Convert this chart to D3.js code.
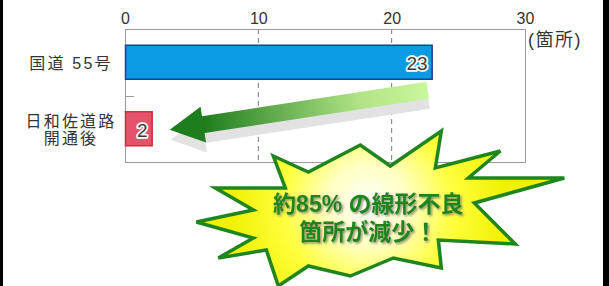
<!DOCTYPE html>
<html>
<head>
<meta charset="utf-8">
<script src="https://cdn.jsdelivr.net/npm/d3@7"></script>
<style>
  html, body { margin: 0; padding: 0; background: #fff; }
  svg { display: block; font-family: "Liberation Sans", Arial, "Noto Sans CJK JP", sans-serif; }
</style>
</head>
<body>
<div id="chart"></div>
<script>
//Datos
const categories = ['国道 55号', '日和佐道路\n開通後'];
const values = [23, 2];
const xTicks = [0, 10, 20, 30];
const gridTicks = [10, 20];
const unitLabel = '(箇所)';
const calloutLines = ['約85% の線形不良', '箇所が減少！'];

//Colores
const COLOR_BARS = ['#0a9be3', '#e4536a'],
    COLOR_BARS_STROKE = ['#1c3f93', '#d7283c'],
    COLOR_FRAME = '#9a9a9a',
    COLOR_GREEN = '#1f861f';

//Forma de la estrella (desplazamientos respecto al centro)
const starShape = [
    [63,-79],[57,-42],[122,-59],[90,-32],[186,-32],[96,-7],[137,34],[60,30],
    [63,58],[15,48],[-28,66],[-70,56],[-100,76],[-112,40],[-160,48],[-125,28],
    [-182,12],[-125,0],[-163,-22],[-93,-22],[-105,-54],[-70,-38],[-18,-65],[12,-44]
];

const W = 609, H = 286;
const margin = {top: 29, right: 85, bottom: 124, left: 125};

let svg = d3.select('#chart').append('svg')
    .attr('width', W)
    .attr('height', H);

let defs = svg.append('defs');

//Sombra del texto
let f = defs.append('filter').attr('id', 'txtShadow')
    .attr('x', '-10%').attr('y', '-30%').attr('width', '120%').attr('height', '160%');
f.append('feDropShadow')
    .attr('dx', 1.5).attr('dy', 1.5).attr('stdDeviation', 0.8)
    .attr('flood-color', '#7a7a6a').attr('flood-opacity', 0.85);

//Marco negro
svg.append('rect').attr('x', 0).attr('y', 0).attr('width', 3).attr('height', H).attr('fill', '#000');
svg.append('rect').attr('x', 603).attr('y', 0).attr('width', 6).attr('height', H).attr('fill', '#000');

let x = d3.scaleLinear()
    .domain([0, 30])
    .range([margin.left, W - margin.right + 1]);

let y = d3.scalePoint()
    .domain(categories)
    .range([margin.top, H - margin.bottom])
    .padding(0.5);

let plotTop = margin.top, plotBottom = H - margin.bottom;

//Rejilla
svg.selectAll('.grid')
    .data(gridTicks)
    .enter()
    .append('line')
    .attr('x1', d => x(d)).attr('x2', d => x(d))
    .attr('y1', plotTop).attr('y2', plotBottom)
    .attr('stroke', '#7a7a7a')
    .attr('stroke-width', 1)
    .attr('stroke-dasharray', '5,4');

//Marco del gráfico
svg.append('rect')
    .attr('x', x(0) + 0.5).attr('y', plotTop + 0.5)
    .attr('width', x(30) - x(0)).attr('height', plotBottom - plotTop)
    .attr('fill', 'none')
    .attr('stroke', COLOR_FRAME)
    .attr('stroke-width', 1);

//Eje X
let xAxis = function(g) {
    g.call(d3.axisTop(x).tickValues(xTicks).tickSize(0).tickPadding(4));
    g.call(g => g.select('.domain').remove());
    g.selectAll('text')
        .attr('font-size', 16)
        .attr('fill', '#333')
        .attr('font-family', '"Liberation Sans", Arial, sans-serif');
};
svg.append('g')
    .attr('transform', 'translate(0,' + (plotTop - 1) + ')')
    .call(xAxis);

svg.append('text')
    .attr('x', 528).attr('y', 46)
    .attr('font-size', 18)
    .attr('letter-spacing', 1.5)
    .attr('fill', '#333')
    .text(unitLabel);

//Marca entre categorías
let mid = (y(categories[0]) + y(categories[1])) / 2;
svg.append('line')
    .attr('x1', x(0)).attr('x2', x(0) + 9)
    .attr('y1', Math.round(mid) + 0.5).attr('y2', Math.round(mid) + 0.5)
    .attr('stroke', COLOR_FRAME);

//Etiquetas de categorías
categories.forEach(function(c) {
    let lines = c.split('\n');
    let t = svg.append('text')
        .attr('text-anchor', 'middle')
        .attr('font-size', 16)
        .attr('letter-spacing', 2.2)
        .attr('fill', '#333');
    lines.forEach(function(l, i) {
        t.append('tspan')
            .attr('x', 71)
            .attr('y', y(c) + 7 - (lines.length - 1) * 8.5 + i * 17)
            .text(l);
    });
});

//Barras
const barH = 34;
svg.selectAll('.bar')
    .data(values)
    .enter()
    .append('rect')
    .attr('x', x(0) + 0.5)
    .attr('y', (d, i) => y(categories[i]) - barH / 2)
    .attr('width', d => x(d) - x(0))
    .attr('height', barH)
    .attr('fill', (d, i) => COLOR_BARS[i])
    .attr('stroke', (d, i) => COLOR_BARS_STROKE[i])
    .attr('stroke-width', 1.5);

svg.selectAll('.barlabel')
    .data(values)
    .enter()
    .append('text')
    .attr('x', d => x(d) - 4)
    .attr('y', (d, i) => y(categories[i]) + 8)
    .attr('text-anchor', 'end')
    .attr('font-size', 19)
    .attr('fill', '#3a3a3a')
    .attr('stroke', '#fff')
    .attr('stroke-width', 3.5)
    .attr('stroke-linejoin', 'round')
    .attr('paint-order', 'stroke')
    .text(d => d);

//Flecha
let S = [x(values[0]) - 4, y(categories[0]) + 28];
let T = [x(values[1]) + 18, y(categories[1]) + 1];
let len = Math.hypot(T[0] - S[0], T[1] - S[1]);
let u = [(T[0] - S[0]) / len, (T[1] - S[1]) / len];
let n = [-u[1], u[0]];
let sw = 8.5, hw = 18, hl = 34;
let B = [T[0] - u[0] * hl, T[1] - u[1] * hl];
function pt(p, k) { return [p[0] + n[0] * k, p[1] + n[1] * k]; }
let arrowPts = [pt(S, sw), pt(B, sw), pt(B, hw), T, pt(B, -hw), pt(B, -sw), pt(S, -sw)];

let grad = defs.append('linearGradient')
    .attr('id', 'arrowGrad')
    .attr('gradientUnits', 'userSpaceOnUse')
    .attr('x1', S[0]).attr('y1', S[1])
    .attr('x2', B[0]).attr('y2', B[1]);
grad.append('stop').attr('offset', '0%').attr('stop-color', '#c9f79c');
grad.append('stop').attr('offset', '30%').attr('stop-color', '#b2e486');
grad.append('stop').attr('offset', '100%').attr('stop-color', '#1e7d1e');

svg.append('polygon')
    .attr('points', arrowPts.map(p => p.join(',')).join(' '))
    .attr('transform', 'translate(1,10)')
    .attr('fill', '#e2e2e2');

svg.append('polygon')
    .attr('points', arrowPts.map(p => p.join(',')).join(' '))
    .attr('fill', 'url(#arrowGrad)');

//Estrella
let cx = x(19), cy = plotBottom + 48;
let rg = defs.append('radialGradient')
    .attr('id', 'starGrad')
    .attr('gradientUnits', 'userSpaceOnUse')
    .attr('cx', cx - 10).attr('cy', cy - 5).attr('r', 140);
rg.append('stop').attr('offset', '0%').attr('stop-color', '#ffffff');
rg.append('stop').attr('offset', '30%').attr('stop-color', '#ffffc0');
rg.append('stop').attr('offset', '60%').attr('stop-color', '#ffff40');
rg.append('stop').attr('offset', '100%').attr('stop-color', '#f0f000');

svg.append('polygon')
    .attr('points', starShape.map(d => (cx + d[0]) + ',' + (cy + d[1])).join(' '))
    .attr('fill', 'url(#starGrad)')
    .attr('stroke', COLOR_GREEN)
    .attr('stroke-width', 3.5)
    .attr('stroke-linejoin', 'miter');

calloutLines.forEach(function(l, i) {
    svg.append('text')
        .attr('x', cx - 10).attr('y', cy + 2 + i * 28)
        .attr('text-anchor', 'middle')
        .attr('font-size', 23)
        .attr('font-weight', 'bold')
        .attr('fill', COLOR_GREEN)
        .attr('filter', 'url(#txtShadow)')
        .text(l);
});
</script>
</body>
</html>
